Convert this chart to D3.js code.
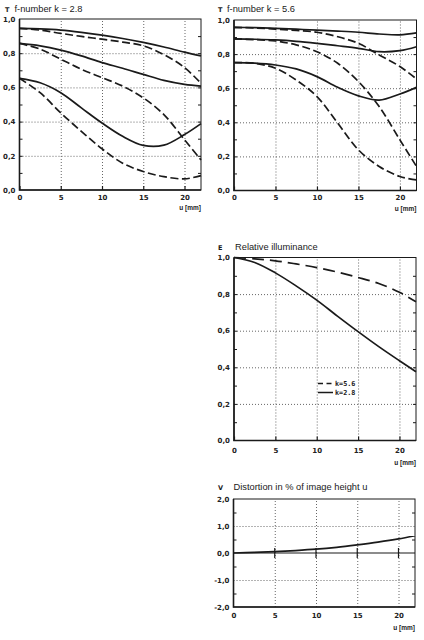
<!DOCTYPE html>
<html>
<head>
<meta charset="utf-8">
<script src="https://cdn.jsdelivr.net/npm/d3@7"></script>
<style>
  body { margin: 0; background: #fff; }
  svg { display: block; }
  .tick text { font-family: "DejaVu Sans"; font-weight: bold; font-size: 7px; fill: #222; }
</style>
</head>
<body>
<div id="chart"></div>
<script>
// image height u [mm], shared by every panel
const uGrid = [0, 2.5, 5, 7.5, 10, 12.5, 15, 17.5, 20, 22];
const xTicks = [0, 5, 10, 15, 20];
const tTicks = [0, 0.2, 0.4, 0.6, 0.8, 1.0];
const vTicks = [-2, -1, 0, 1, 2];

// transmission T, f-number k = 2.8 (three pairs: solid / dashed)
const k28SolidA  = [0.945, 0.942, 0.935, 0.922, 0.906, 0.886, 0.863, 0.836, 0.806, 0.784];
const k28DashedA = [0.945, 0.935, 0.916, 0.898, 0.882, 0.865, 0.843, 0.792, 0.716, 0.624];
const k28SolidB  = [0.857, 0.843, 0.818, 0.784, 0.745, 0.712, 0.676, 0.641, 0.618, 0.608];
const k28DashedB = [0.857, 0.824, 0.765, 0.706, 0.657, 0.608, 0.539, 0.441, 0.294, 0.176];
const k28SolidC  = [0.653, 0.627, 0.569, 0.480, 0.392, 0.314, 0.261, 0.262, 0.324, 0.388];
const k28DashedC = [0.653, 0.569, 0.451, 0.343, 0.241, 0.157, 0.108, 0.078, 0.065, 0.084];

// transmission T, f-number k = 5.6
const k56SolidA  = [0.957, 0.955, 0.951, 0.946, 0.941, 0.935, 0.928, 0.918, 0.913, 0.924];
const k56DashedA = [0.957, 0.953, 0.947, 0.939, 0.928, 0.902, 0.863, 0.795, 0.727, 0.654];
const k56SolidB  = [0.889, 0.887, 0.883, 0.875, 0.863, 0.849, 0.834, 0.814, 0.820, 0.843];
const k56DashedB = [0.889, 0.885, 0.877, 0.854, 0.814, 0.746, 0.639, 0.492, 0.297, 0.141];
const k56SolidC  = [0.750, 0.747, 0.736, 0.713, 0.668, 0.605, 0.555, 0.530, 0.566, 0.605];
const k56DashedC = [0.750, 0.746, 0.717, 0.648, 0.551, 0.395, 0.238, 0.141, 0.082, 0.062];

// relative illuminance E
const illumK56 = [1.0, 0.993, 0.982, 0.965, 0.945, 0.920, 0.891, 0.858, 0.810, 0.758];
const illumK28 = [1.0, 0.973, 0.916, 0.845, 0.767, 0.680, 0.595, 0.513, 0.436, 0.376];

// distortion V in % of image height
const distortion = [0, 0.02, 0.05, 0.09, 0.14, 0.21, 0.30, 0.40, 0.52, 0.64];

const legendLabels = ["k=5.6", "k=2.8"];

const W = 424, H = 640;
const svg = d3.select("#chart").append("svg")
    .attr("width", W)
    .attr("height", H);

const fmt = v => v.toFixed(1).replace(".", ",");
const ink = "#1a1a1a";

function drawPanel(p, series) {
  const x = d3.scaleLinear().domain([0, 22]).range([p.left, p.right]);
  const y = d3.scaleLinear().domain(p.yDomain).range([p.bottom, p.top]);
  const g = svg.append("g");
  const ht = p.bottom - p.top, wd = p.right - p.left;

  // dotted grid
  g.append("g")
    .attr("transform", "translate(0," + p.bottom + ")")
    .call(d3.axisBottom(x).tickValues(xTicks.slice(1)).tickSize(-ht).tickFormat(""))
    .call(s => s.select(".domain").remove())
    .selectAll("line").attr("stroke", "#666").attr("stroke-dasharray", "1,2");
  g.append("g")
    .attr("transform", "translate(" + p.left + ",0)")
    .call(d3.axisLeft(y).tickValues(p.gridY).tickSize(-wd).tickFormat(""))
    .call(s => s.select(".domain").remove())
    .selectAll("line").attr("stroke", "#666").attr("stroke-dasharray", "1,2");

  // minor ticks, inward, left and right
  g.append("g")
    .attr("transform", "translate(" + p.left + ",0)")
    .call(d3.axisLeft(y).tickValues(p.minorY).tickSize(-3).tickFormat(""))
    .call(s => s.select(".domain").remove())
    .selectAll("line").attr("stroke", ink);
  g.append("g")
    .attr("transform", "translate(" + p.right + ",0)")
    .call(d3.axisRight(y).tickValues(p.minorY).tickSize(-3).tickFormat(""))
    .call(s => s.select(".domain").remove())
    .selectAll("line").attr("stroke", ink);

  // frame
  g.append("rect")
    .attr("x", p.left).attr("y", p.top)
    .attr("width", wd).attr("height", ht)
    .attr("fill", "none").attr("stroke", ink).attr("stroke-width", 1);
  g.append("path")
    .attr("d", "M" + p.left + "," + p.top + "V" + p.bottom + "H" + p.right)
    .attr("fill", "none").attr("stroke", ink).attr("stroke-width", 1.6);

  // tick labels
  g.append("g")
    .attr("transform", "translate(" + p.left + ",0)")
    .call(d3.axisLeft(y).tickValues(p.yTicks).tickSize(0).tickPadding(4).tickFormat(fmt))
    .call(s => s.select(".domain").remove());
  const xa = g.append("g")
    .attr("transform", "translate(0," + p.bottom + ")")
    .call(d3.axisBottom(x).tickValues(xTicks).tickSize(p.zeroLine ? 0 : -4).tickPadding(p.xPad).tickFormat(d3.format("d")))
    .call(s => s.select(".domain").remove());
  xa.selectAll("line").attr("stroke", ink).attr("stroke-width", 1.2);

  if (p.zeroLine) {
    g.append("line")
      .attr("x1", p.left).attr("x2", p.right)
      .attr("y1", y(0)).attr("y2", y(0))
      .attr("stroke", ink).attr("stroke-width", 1.2);
    g.selectAll(".zt").data(xTicks.slice(1)).enter().append("line")
      .attr("x1", d => x(d)).attr("x2", d => x(d))
      .attr("y1", y(0) - 5).attr("y2", y(0) + 5)
      .attr("stroke", ink).attr("stroke-width", 1.2);
  }

  g.append("text")
    .attr("x", p.right).attr("y", p.bottom + p.unitDy)
    .attr("text-anchor", "end")
    .attr("font-family", "Liberation Sans").attr("font-weight", "bold")
    .attr("font-size", "6.5px").attr("fill", ink)
    .text("u [mm]");

  // title
  g.append("text")
    .attr("x", p.symX).attr("y", p.titleY)
    .attr("font-family", "DejaVu Sans").attr("font-weight", "bold")
    .attr("font-size", "6.5px").attr("fill", ink)
    .text(p.symbol);
  g.append("text")
    .attr("x", p.titleX).attr("y", p.titleY)
    .attr("font-family", "Liberation Sans")
    .attr("font-size", "9.3px").attr("fill", ink)
    .text(p.title);

  // curves
  const line = d3.line()
    .x((d, i) => x(uGrid[i]))
    .y(d => y(d))
    .curve(d3.curveCatmullRom.alpha(0.5));
  series.forEach(s => {
    g.append("path")
      .attr("d", line(s.values))
      .attr("fill", "none")
      .attr("stroke", ink)
      .attr("stroke-width", 1.7)
      .attr("stroke-dasharray", s.dash || null);
  });
  return { x, y, g };
}

const minorT = d3.range(1, 10).map(i => i / 10);
const minorV = [-1.5, -0.5, 0.5, 1.5];

const tDash = "8,3.5";

drawPanel({
  left: 19.5, right: 201, top: 19, bottom: 190, yDomain: [0, 1],
  yTicks: tTicks, gridY: tTicks.slice(1, 5), minorY: minorT, unitDy: 20, xPad: 5,
  symbol: "T", symX: 5, titleX: 14.5, titleY: 12, title: "f-number k = 2.8"
}, [
  { values: k28SolidA }, { values: k28DashedA, dash: tDash },
  { values: k28SolidB }, { values: k28DashedB, dash: tDash },
  { values: k28SolidC }, { values: k28DashedC, dash: tDash }
]);

drawPanel({
  left: 234, right: 416.5, top: 20, bottom: 190.5, yDomain: [0, 1],
  yTicks: tTicks, gridY: tTicks.slice(1, 5), minorY: minorT, unitDy: 20, xPad: 5,
  symbol: "T", symX: 218, titleX: 227, titleY: 12, title: "f-number k = 5.6"
}, [
  { values: k56SolidA }, { values: k56DashedA, dash: tDash },
  { values: k56SolidB }, { values: k56DashedB, dash: tDash },
  { values: k56SolidC }, { values: k56DashedC, dash: tDash }
]);

const mid = drawPanel({
  left: 234, right: 416, top: 257.5, bottom: 440.5, yDomain: [0, 1],
  yTicks: tTicks, gridY: tTicks.slice(1, 5), minorY: minorT, unitDy: 24, xPad: 7.5,
  symbol: "E", symX: 218, titleX: 235, titleY: 249.5, title: "Relative illuminance"
}, [
  { values: illumK56, dash: "12,6" },
  { values: illumK28 }
]);

// legend
const leg = mid.g.append("g");
legendLabels.forEach((lab, i) => {
  const ly = 383.5 + i * 9;
  leg.append("line")
    .attr("x1", 318).attr("x2", 333).attr("y1", ly).attr("y2", ly)
    .attr("stroke", ink).attr("stroke-width", 1.5)
    .attr("stroke-dasharray", i === 0 ? "5,3.5" : null);
  leg.append("text")
    .attr("x", 335).attr("y", ly + 2.3)
    .attr("font-family", "DejaVu Sans Mono").attr("font-weight", "bold")
    .attr("font-size", "6.8px").attr("fill", ink)
    .text(lab);
});

drawPanel({
  left: 233.5, right: 415, top: 499, bottom: 607, yDomain: [-2, 2],
  yTicks: vTicks, gridY: [-1, 1], minorY: minorV, unitDy: 23, xPad: 6, zeroLine: true,
  symbol: "V", symX: 218, titleX: 233.5, titleY: 489.5, title: "Distortion in % of image height u"
}, [
  { values: distortion }
]);
</script>
</body>
</html>
